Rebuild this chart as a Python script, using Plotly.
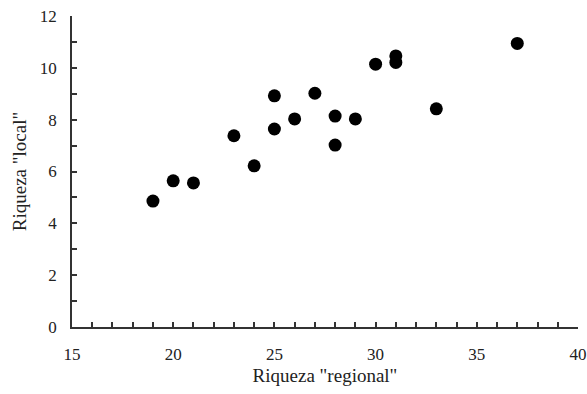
import plotly.graph_objects as go

riqueza_regional = [19, 20, 21, 23, 24, 25, 25, 26, 27, 28, 28, 29, 30, 31, 31, 33, 37]
riqueza_local = [4.86, 5.64, 5.56, 7.38, 6.22, 8.92, 7.64, 8.03, 9.02, 8.14, 7.02, 8.03, 10.14, 10.46, 10.21, 8.42, 10.94]

fig = go.Figure(go.Scatter(
    x=riqueza_regional, y=riqueza_local, mode="markers",
    marker=dict(color="black", size=13, line=dict(width=0)),
    cliponaxis=False, showlegend=False,
))

font = dict(family="Liberation Serif", color="#222")
axis_common = dict(
    showgrid=False, zeroline=False, showline=True, linecolor="#333", linewidth=1.5,
    ticks="inside", ticklen=5, tickwidth=1.5, tickcolor="#333",
    tickfont=dict(size=17, **font), mirror=False, automargin=False,
)
fig.update_xaxes(range=[15, 40], dtick=5, tick0=15,
                 minor=dict(ticks="inside", ticklen=5, dtick=1, tickwidth=1.5, tickcolor="#333"),
                 ticklabelstandoff=11,
                 title=dict(text='Riqueza "regional"', font=dict(size=19, **font), standoff=6),
                 **axis_common)
fig.update_yaxes(range=[0, 12], dtick=2, tick0=0,
                 minor=dict(ticks="inside", ticklen=5, dtick=1, tickwidth=1.5, tickcolor="#333"),
                 ticklabelstandoff=10,
                 title=dict(text='Riqueza "local"', font=dict(size=19, **font), standoff=8),
                 **axis_common)
fig.update_layout(
    width=587, height=394,
    margin=dict(l=72, r=9, t=16, b=67),
    plot_bgcolor="white", paper_bgcolor="white",
    font=font,
)
fig.write_html("out.html",
               config={"displayModeBar": False},
               post_script="document.body.style.margin='0';document.body.style.overflow='hidden';")
